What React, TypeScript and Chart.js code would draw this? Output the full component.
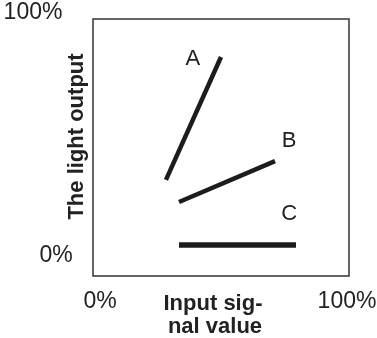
import React, { useEffect, useRef } from "react";
import { Chart, registerables } from "chart.js";

Chart.register(...registerables);

// Data (percent of input signal / light output)
const seriesNames = ["A", "B", "C"];
const inputA = [28.5, 50];
const outputA = [37.4, 85.2];
const inputB = [33.6, 71.1];
const outputB = [28.8, 44.7];
const inputC = [33.6, 79.3];
const outputC = [12.1, 12.1];
const xTickLabels = ["0%", "100%"];
const yTickLabels = ["0%", "100%"];
const xTitle = ["Input sig-", "nal value"];
const yTitle = "The light output";

const toPoints = (xs: number[], ys: number[]) => xs.map((x, i) => ({ x, y: ys[i] }));

const INK = "#1c1c1c";
const TEXT = "#222222";
const FONT = '"Liberation Sans", Arial, Helvetica, sans-serif';

const overlay = {
  id: "overlay",
  afterDraw(chart: any) {
    const { ctx, chartArea: a, scales } = chart;
    const xs = scales.x;
    const ys = scales.y;
    ctx.save();
    // frame
    ctx.strokeStyle = "#333333";
    ctx.lineWidth = 1.5;
    ctx.strokeRect(a.left, a.top, a.right - a.left, a.bottom - a.top);

    ctx.fillStyle = TEXT;
    ctx.font = `23px ${FONT}`;
    ctx.textAlign = "center";
    ctx.textBaseline = "middle";
    // y tick labels
    ctx.fillText(yTickLabels[1], a.left - 60, a.top - 6);
    ctx.fillText(yTickLabels[0], a.left - 37, a.bottom - 20);
    // x tick labels
    ctx.fillText(xTickLabels[0], a.left + 7, a.bottom + 26);
    ctx.fillText(xTickLabels[1], a.right - 2, a.bottom + 26);

    // series labels
    ctx.font = `22px ${FONT}`;
    const labelPos = [
      { x: 39, y: 84.5 },
      { x: 76.6, y: 52.5 },
      { x: 76.6, y: 24.1 },
    ];
    seriesNames.forEach((n, i) => {
      ctx.fillText(n, xs.getPixelForValue(labelPos[i].x), ys.getPixelForValue(labelPos[i].y));
    });

    // axis titles
    ctx.font = `bold 22px ${FONT}`;
    ctx.textBaseline = "alphabetic";
    const cx = (a.left + a.right) / 2 - 8;
    ctx.fillText(xTitle[0], cx, a.bottom + 34);
    ctx.fillText(xTitle[1], cx + 2, a.bottom + 57);

    ctx.translate(a.left - 10, (a.top + a.bottom) / 2 - 11);
    ctx.rotate(-Math.PI / 2);
    ctx.fillText(yTitle, 0, 0);
    ctx.restore();
  },
};

export default function App() {
  const ref = useRef<HTMLCanvasElement>(null);
  useEffect(() => {
    if (!ref.current) return;
    const chart = new Chart(ref.current, {
      type: "scatter",
      data: {
        datasets: [
          { label: seriesNames[0], data: toPoints(inputA, outputA), borderWidth: 4.5 },
          { label: seriesNames[1], data: toPoints(inputB, outputB), borderWidth: 4.5 },
          { label: seriesNames[2], data: toPoints(inputC, outputC), borderWidth: 5.5 },
        ].map((d) => ({
          ...d,
          showLine: true,
          pointRadius: 0,
          borderColor: INK,
          backgroundColor: INK,
          borderCapStyle: "butt" as const,
        })),
      },
      options: {
        animation: false,
        responsive: true,
        maintainAspectRatio: false,
        layout: { padding: { left: 93, top: 19, right: 28, bottom: 62 } },
        plugins: { legend: { display: false }, tooltip: { enabled: false } },
        scales: {
          x: { type: "linear", min: 0, max: 100, display: false },
          y: { type: "linear", min: 0, max: 100, display: false },
        },
      },
      plugins: [overlay],
    });
    return () => chart.destroy();
  }, []);
  return (
    <div style={{ position: "fixed", left: 0, top: 0, width: 377, height: 338, background: "#fff" }}>
      <canvas ref={ref} />
    </div>
  );
}
